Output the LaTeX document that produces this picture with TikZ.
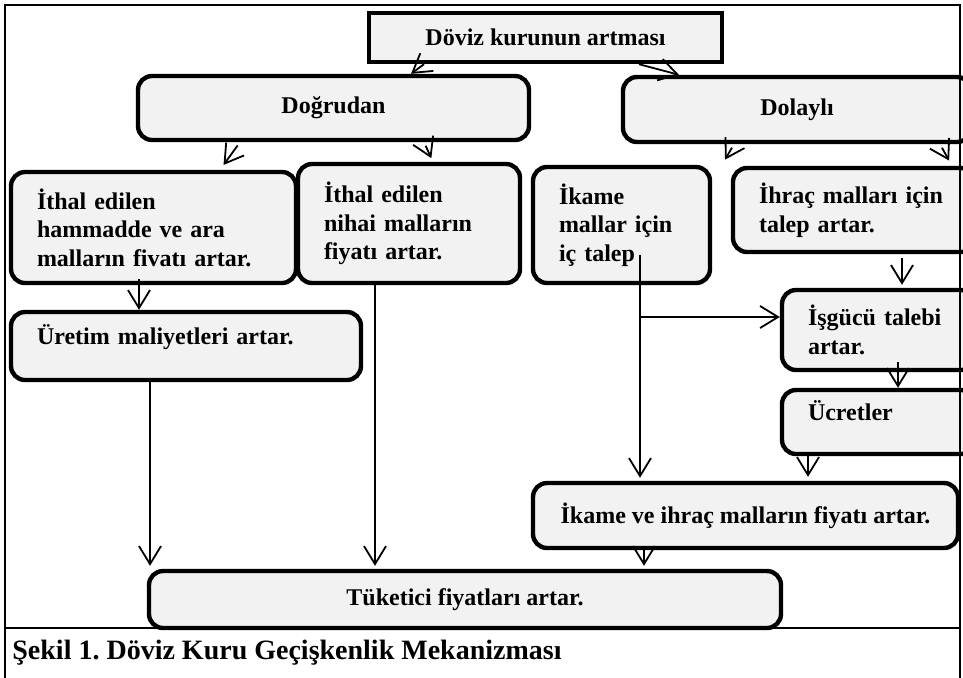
\documentclass[tikz,border=0pt]{standalone}
\usepackage{fontspec}
\setmainfont{Liberation Serif}
\usetikzlibrary{arrows.meta,positioning,calc}
\newcommand{\yazi}{\fontsize{12pt}{14.3pt}\selectfont\bfseries\frenchspacing}
\tikzset{
  kutu/.style    = {draw, line width=2.2pt, rounded corners=7pt, fill=black!5,
                    inner xsep=13pt, inner ysep=2pt, align=left, font=\yazi},
  orta/.style    = {kutu, align=center, inner xsep=2pt},
  ok/.style      = {-{Straight Barb[length=9pt,width=11pt]}, line width=0.9pt},
  cerceve/.style = {line width=1pt},
  baslik/.style  = {font=\fontsize{14pt}{16pt}\selectfont\bfseries\frenchspacing, inner sep=0pt}
}

\begin{document}
\begin{tikzpicture}[x=0.5pt,y=-0.5pt]
  \clip (0,0) rectangle (963,677);
  % ---- top: exchange rate and its two channels ----
  \node[orta, sharp corners, minimum width=176.5pt, minimum height=24.5pt] (doviz) at (545.5,37.5) {Döviz kurunun artması};
  \node[orta, minimum width=195.5pt, minimum height=32pt] (dogrudan) at (333.5,108) {Doğrudan};
  \node[orta, minimum width=174pt, minimum height=32.5pt] (dolayli) at (797,109.5) {Dolaylı};
  % ---- direct channel ----
  \node[kutu, text width=116.5pt, minimum height=55.5pt] (ithal1) at (153.5,227.5) {İthal edilen\\hammadde ve ara\\malların fivatı artar.};
  \node[kutu, text width=85pt, minimum height=59.5pt] (ithal2) at (409,223.5) {İthal edilen\\nihai malların\\fiyatı artar.};
  \node[kutu, text width=149pt, minimum height=34pt, text depth=11pt] (uretim) at (186,346) {Üretim maliyetleri artar.};
  % ---- indirect channel ----
  \node[kutu, text width=62.5pt, minimum height=58pt] (ikame) at (621.5,225) {İkame\\mallar için\\iç talep};
  \node[kutu, text width=95pt, minimum height=42pt] (ihrac) at (854,210) {İhraç malları için\\talep artar.};
  \node[kutu, text width=70.5pt, minimum height=40pt] (isgucu) at (878.5,330) {İşgücü talebi\\artar.};
  \node[kutu, text width=70.5pt, minimum height=32pt, text depth=12pt] (ucret) at (878.5,422) {Ücretler};
  \node[orta, minimum width=212.5pt, minimum height=32.5pt] (ikve) at (745.5,515.5) {İkame ve ihraç malların fiyatı artar.};
  % ---- result ----
  \node[orta, minimum width=316pt, minimum height=28.5pt] (tuketici) at (465,599.5) {Tüketici fiyatları artar.};
  \coordinate (kol) at (640,317);
  % ---- arrows ----
  \draw[ok] (doviz.south -| 424,0) -- (dogrudan.north -| 411,0);
  \draw[ok] (doviz.south -| 639,0) -- (dolayli.north -| 679,0);
  \draw[ok, shorten <=2pt, shorten >=3pt] (dogrudan.south -| 240,0) -- (ithal1.north -| 220,0);
  \draw[ok, shorten <=2pt, shorten >=2pt] (dogrudan.south -| 424,0) -- (ithal2.north -| 433,0);
  \draw[ok, shorten <=2pt, shorten >=3pt] (dolayli.south -| 734,0) -- (ikame.north -| 722,0);
  \draw[ok, shorten <=2pt, shorten >=3pt] (dolayli.south -| 940,0) -- (ihrac.north -| 952,0);
  \draw[ok] ([yshift=3pt]ithal1.south -| 139,0) -- (uretim.north -| 139,0);
  \draw[ok, shorten >=1.5pt] (uretim.south -| 150,0) -- (tuketici.north -| 150,0);
  \draw[ok, shorten >=1.5pt] (ithal2.south -| 375,0) -- (tuketici.north -| 375,0);
  \draw[ok, shorten >=1.5pt] ([yshift=15pt]ikame.south -| 640,0) -- (ikve.north -| 640,0);
  \draw[ok] (kol) -- (kol -| isgucu.west);
  \draw[ok, shorten <=2pt, shorten >=1.5pt] (ihrac.south -| 902,0) -- (isgucu.north -| 902,0);
  \draw[ok] ([yshift=5pt]isgucu.south -| 898,0) -- (ucret.north -| 898,0);
  \draw[ok, shorten >=2pt] (ucret.south -| 808,0) -- (ikve.north -| 808,0);
  \draw[ok, shorten >=1.5pt] (ikve.south -| 644,0) -- (tuketici.north -| 644,0);
  % ---- frame and caption ----
  \draw[cerceve] (5,680) -- (5,5) -- (960,5) -- (960,680);
  \draw[cerceve] (5,628) -- (960,628);
  \node[baslik, anchor=base west] (sekil) at (12,659) {Şekil 1. Döviz Kuru Geçişkenlik Mekanizması};
\end{tikzpicture}
\end{document}
